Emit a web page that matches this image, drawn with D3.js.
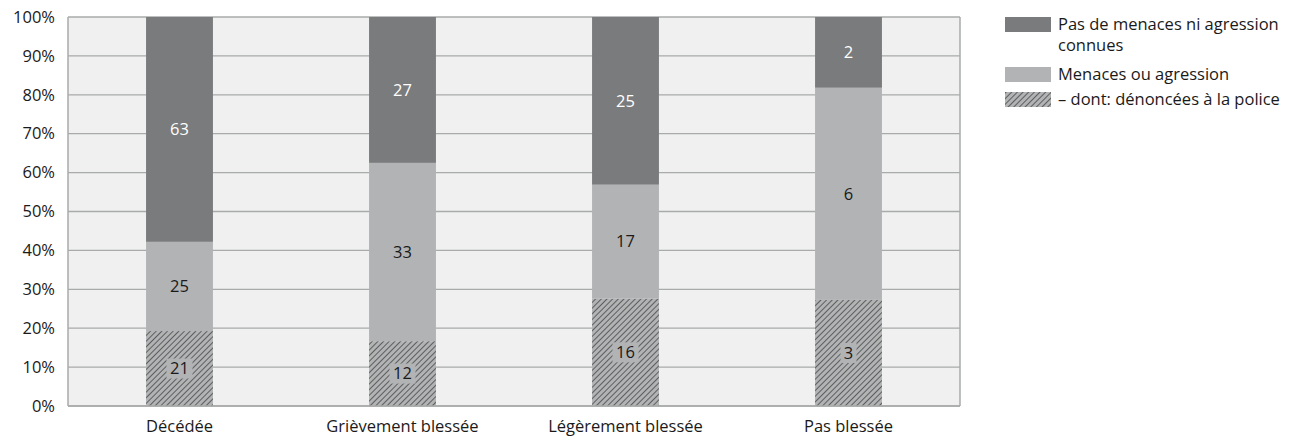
<!DOCTYPE html>
<html>
<head>
<meta charset="utf-8">
<script src="https://cdn.jsdelivr.net/npm/d3@7"></script>
<style>
  body { margin: 0; background: #fff; font-family: "Open Sans", sans-serif; }
  text { font-family: "Open Sans", sans-serif; }
</style>
</head>
<body>
<div id="chart"></div>
<script>
// data
var categories = ["Décédée", "Grièvement blessée", "Légèrement blessée", "Pas blessée"];
var reported = [21, 12, 16, 3];      // dont: dénoncées à la police
var threats = [25, 33, 17, 6];       // menaces ou agression (other)
var noThreats = [63, 27, 25, 2];     // pas de menaces ni agression connues
var yTicks = [0, 10, 20, 30, 40, 50, 60, 70, 80, 90, 100];

var keys = ["reported", "threats", "noThreats"];
var fills = {reported: "url(#hatch)", threats: "#b2b3b4", noThreats: "#7a7b7c"};
var labelColors = {reported: "#1a1a1a", threats: "#1a1a1a", noThreats: "#ffffff"};
var fontSize = 16.5;

var rows = categories.map(function(c, i) {
  var total = reported[i] + threats[i] + noThreats[i];
  return {cat: c, reported: reported[i] / total, threats: threats[i] / total,
          noThreats: noThreats[i] / total,
          raw: {reported: reported[i], threats: threats[i], noThreats: noThreats[i]}};
});

var W = 1302, H = 440;
var margin = {top: 17, right: 342, bottom: 34, left: 68},
    width = W - margin.left - margin.right,
    height = H - margin.top - margin.bottom;

var svgRoot = d3.select("#chart").append("svg")
    .attr("width", W).attr("height", H);

// hatch pattern
var pat = svgRoot.append("defs").append("pattern")
    .attr("id", "hatch")
    .attr("patternUnits", "userSpaceOnUse")
    .attr("width", 4).attr("height", 4)
    .attr("patternTransform", "rotate(45)");
pat.append("rect").attr("width", 4).attr("height", 4).attr("fill", "#b2b3b4");
pat.append("line").attr("x1", 0).attr("y1", 0).attr("x2", 0).attr("y2", 4)
    .attr("stroke", "#222").attr("stroke-width", 1.2);

var svg = svgRoot.append("g")
    .attr("transform", "translate(" + margin.left + "," + margin.top + ")");

var x = d3.scaleBand().domain(categories).range([0, width]).paddingInner(0.7).paddingOuter(0.35);
var y = d3.scaleLinear().domain([0, 1]).range([height, 0]);

// plot background
svg.append("rect").attr("width", width).attr("height", height).attr("fill", "#eff0ef");

// gridlines
svg.selectAll(".grid").data(yTicks).enter().append("line")
    .attr("x1", 0).attr("x2", width)
    .attr("y1", function(d) { return y(d / 100); })
    .attr("y2", function(d) { return y(d / 100); })
    .attr("stroke", "#a9aaaa").attr("stroke-width", 1.3);

// frame lines (left, right)
svg.append("line").attr("x1", 0).attr("x2", 0).attr("y1", 0).attr("y2", height)
    .attr("stroke", "#a9aaaa").attr("stroke-width", 1.5);
svg.append("line").attr("x1", width).attr("x2", width).attr("y1", 0).attr("y2", height)
    .attr("stroke", "#a9aaaa").attr("stroke-width", 1.5);

// y tick labels
svg.selectAll(".ylab").data(yTicks).enter().append("text")
    .attr("x", -13).attr("y", function(d) { return y(d / 100); })
    .attr("dy", "0.35em").attr("text-anchor", "end")
    .attr("font-size", fontSize).attr("fill", "#1a1a1a")
    .text(function(d) { return d + "%"; });

// x labels
svg.selectAll(".xlab").data(categories).enter().append("text")
    .attr("x", function(d) { return x(d) + x.bandwidth() / 2; })
    .attr("y", height + 26)
    .attr("text-anchor", "middle").attr("font-size", fontSize).attr("fill", "#1a1a1a")
    .text(function(d) { return d; });

// stacked bars
var stacked = d3.stack().keys(keys)(rows);

var layers = svg.selectAll(".layer").data(stacked).enter().append("g");

layers.selectAll("rect").data(function(d) { return d; }).enter().append("rect")
    .attr("x", function(d) { return x(d.data.cat); })
    .attr("width", x.bandwidth())
    .attr("y", function(d) { return y(d[1]); })
    .attr("height", function(d) { return y(d[0]) - y(d[1]); })
    .attr("fill", function() { return fills[d3.select(this.parentNode).datum().key]; });

// value labels
layers.each(function(layer) {
  var g = d3.select(this);
  layer.forEach(function(d) {
    var cx = x(d.data.cat) + x.bandwidth() / 2;
    var cy = (y(d[0]) + y(d[1])) / 2;
    if (layer.key === "reported") {
      var bw = String(d.data.raw.reported).length > 1 ? 26 : 16;
      g.append("rect").attr("x", cx - bw / 2).attr("y", cy - 10)
        .attr("width", bw).attr("height", 20).attr("fill", "#b2b3b4");
    }
    g.append("text").attr("x", cx).attr("y", cy).attr("dy", "0.35em")
      .attr("text-anchor", "middle").attr("font-size", fontSize)
      .attr("fill", labelColors[layer.key])
      .text(d.data.raw[layer.key]);
  });
});

// bottom axis line
svg.append("line").attr("x1", 0).attr("x2", width).attr("y1", height).attr("y2", height)
    .attr("stroke", "#a9aaaa").attr("stroke-width", 1.5);

// legend
var legendItems = [
  {fill: fills.noThreats, lines: ["Pas de menaces ni agression", "connues"], y: 17},
  {fill: fills.threats, lines: ["Menaces ou agression"], y: 67},
  {fill: fills.reported, lines: ["– dont: dénoncées à la police"], y: 92}
];
var legend = svgRoot.append("g");
legendItems.forEach(function(item) {
  legend.append("rect").attr("x", 1005).attr("y", item.y)
    .attr("width", 46).attr("height", 15).attr("fill", item.fill);
  item.lines.forEach(function(t, j) {
    legend.append("text").attr("x", 1058).attr("y", item.y + 7.5 + j * 21)
      .attr("dy", "0.35em").attr("font-size", fontSize).attr("fill", "#1a1a1a").text(t);
  });
});
</script>
</body>
</html>
